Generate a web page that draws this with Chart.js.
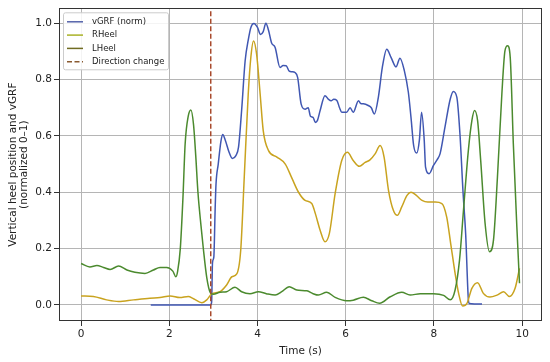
<!DOCTYPE html>
<html><head><meta charset="utf-8">
<script src="https://cdn.jsdelivr.net/npm/chart.js@4/dist/chart.umd.min.js"></script>
<style>html,body{margin:0;padding:0;background:#fff}#wrap{width:550px;height:362px}</style>
</head><body><div id="wrap"><canvas id="c" width="550" height="362"></canvas></div>
<script>
const xTicks = [0, 2, 4, 6, 8, 10];
const yTicks = [0.0, 0.2, 0.4, 0.6, 0.8, 1.0];
const directionChangeTime = 2.94;

const vgrfTime = [1.58, 2.94, 2.96, 2.98, 3.01, 3.04, 3.06, 3.11, 3.17, 3.21, 3.27, 3.35, 3.43, 3.51, 3.57, 3.64, 3.72, 3.79, 3.85, 3.92, 4.0, 4.07, 4.13, 4.19, 4.25, 4.32, 4.40, 4.51, 4.58, 4.65, 4.72, 4.78, 4.85, 4.91, 4.99, 5.08, 5.15, 5.20, 5.26, 5.31, 5.36, 5.42, 5.53, 5.61, 5.67, 5.73, 5.80, 5.86, 5.91, 6.02, 6.10, 6.17, 6.29, 6.34, 6.40, 6.51, 6.58, 6.65, 6.74, 6.83, 6.93, 7.03, 7.14, 7.23, 7.33, 7.42, 7.48, 7.54, 7.61, 7.67, 7.72, 7.78, 7.81, 7.89, 7.99, 8.07, 8.14, 8.25, 8.37, 8.44, 8.52, 8.59, 8.66, 8.72, 8.78, 8.80, 9.09];
const vgrfValue = [0.0, 0.0, 0.01, 0.15, 0.17, 0.34, 0.43, 0.50, 0.58, 0.605, 0.585, 0.545, 0.52, 0.53, 0.56, 0.69, 0.867, 0.94, 0.985, 0.999, 0.985, 0.96, 0.97, 1.0, 0.975, 0.93, 0.914, 0.843, 0.85, 0.849, 0.83, 0.828, 0.825, 0.808, 0.713, 0.695, 0.70, 0.67, 0.666, 0.648, 0.655, 0.69, 0.743, 0.73, 0.725, 0.73, 0.726, 0.70, 0.684, 0.684, 0.70, 0.684, 0.725, 0.715, 0.714, 0.708, 0.70, 0.678, 0.737, 0.843, 0.908, 0.878, 0.845, 0.876, 0.831, 0.755, 0.666, 0.566, 0.539, 0.585, 0.684, 0.585, 0.489, 0.466, 0.495, 0.515, 0.537, 0.631, 0.731, 0.758, 0.737, 0.607, 0.40, 0.25, 0.02, 0.005, 0.003];

const rheelTime = [0, 0.28, 0.58, 0.85, 1.19, 1.56, 1.79, 2.02, 2.24, 2.43, 2.55, 2.74, 2.85, 2.96, 3.15, 3.30, 3.42, 3.53, 3.62, 3.70, 3.79, 3.85, 3.91, 3.98, 4.06, 4.13, 4.25, 4.44, 4.63, 4.78, 4.93, 5.08, 5.23, 5.31, 5.42, 5.53, 5.63, 5.76, 5.91, 6.04, 6.17, 6.31, 6.44, 6.55, 6.67, 6.78, 6.87, 6.97, 7.08, 7.17, 7.27, 7.39, 7.48, 7.60, 7.73, 7.86, 8.03, 8.18, 8.29, 8.38, 8.48, 8.56, 8.65, 8.75, 8.86, 8.99, 9.12, 9.27, 9.43, 9.58, 9.71, 9.84, 9.94];
const rheelValue = [0.032, 0.03, 0.018, 0.012, 0.018, 0.024, 0.026, 0.032, 0.026, 0.03, 0.022, 0.008, 0.018, 0.039, 0.047, 0.071, 0.10, 0.11, 0.195, 0.454, 0.749, 0.88, 0.937, 0.89, 0.749, 0.619, 0.548, 0.525, 0.50, 0.45, 0.40, 0.371, 0.36, 0.325, 0.265, 0.224, 0.254, 0.395, 0.513, 0.542, 0.513, 0.492, 0.506, 0.515, 0.537, 0.566, 0.525, 0.407, 0.336, 0.318, 0.348, 0.389, 0.40, 0.389, 0.371, 0.365, 0.365, 0.36, 0.312, 0.218, 0.112, 0.041, -0.004, 0.006, 0.059, 0.079, 0.041, 0.028, 0.035, 0.047, 0.03, 0.059, 0.13];

const lheelTime = [0, 0.2, 0.36, 0.51, 0.66, 0.85, 1.04, 1.22, 1.45, 1.64, 1.79, 1.94, 2.08, 2.15, 2.19, 2.25, 2.31, 2.36, 2.43, 2.49, 2.55, 2.6, 2.65, 2.72, 2.77, 2.85, 2.93, 3.0, 3.15, 3.30, 3.49, 3.64, 3.83, 4.02, 4.20, 4.40, 4.55, 4.72, 4.89, 5.12, 5.26, 5.38, 5.57, 5.76, 6.02, 6.17, 6.40, 6.59, 6.77, 7.01, 7.27, 7.46, 7.69, 7.99, 8.22, 8.37, 8.48, 8.58, 8.67, 8.78, 8.86, 8.92, 8.99, 9.06, 9.16, 9.26, 9.35, 9.44, 9.54, 9.61, 9.67, 9.73, 9.80, 9.88, 9.94];
const lheelValue = [0.147, 0.135, 0.14, 0.133, 0.126, 0.138, 0.124, 0.116, 0.112, 0.124, 0.133, 0.133, 0.12, 0.10, 0.12, 0.2, 0.38, 0.572, 0.67, 0.692, 0.64, 0.53, 0.40, 0.28, 0.203, 0.097, 0.044, 0.038, 0.045, 0.047, 0.063, 0.047, 0.04, 0.047, 0.04, 0.035, 0.047, 0.065, 0.053, 0.05, 0.04, 0.035, 0.045, 0.027, 0.015, 0.017, 0.027, 0.015, 0.006, 0.029, 0.045, 0.035, 0.04, 0.04, 0.034, 0.018, 0.053, 0.159, 0.336, 0.548, 0.654, 0.69, 0.654, 0.513, 0.289, 0.189, 0.23, 0.454, 0.749, 0.902, 0.92, 0.878, 0.572, 0.277, 0.077];

const X_MIN = -0.5, X_MAX = 10.45, Y_MIN = -0.057, Y_MAX = 1.053;
const pts = (t, v) => t.map((x, i) => ({x: x, y: v[i]}));
const FONT = 'DejaVu Sans';

const legendPlugin = {
  id: 'inLegend',
  afterDatasetsDraw(chart) {
    const ctx = chart.ctx, ca = chart.chartArea;
    const x0 = ca.left + 4, y0 = ca.top + 4, w = 105, h = 57;
    ctx.save();
    ctx.fillStyle = 'rgba(255,255,255,0.85)';
    ctx.strokeStyle = '#cccccc';
    ctx.lineWidth = 1;
    ctx.beginPath();
    ctx.roundRect(x0 + 0.5, y0 + 0.5, w, h, 2);
    ctx.fill(); ctx.stroke();
    ctx.font = '8.5px ' + FONT;
    ctx.textBaseline = 'middle';
    chart.data.datasets.forEach((ds, i) => {
      const y = y0 + 9.5 + i * 13.3;
      ctx.strokeStyle = ds.legendColor || ds.borderColor;
      ctx.lineWidth = 1.5;
      ctx.setLineDash(ds.borderDash || []);
      ctx.beginPath(); ctx.moveTo(x0 + 4, y); ctx.lineTo(x0 + 20, y); ctx.stroke();
      ctx.setLineDash([]);
      ctx.fillStyle = '#222';
      ctx.fillText(ds.label, x0 + 29, y);
    });
    ctx.restore();
  }
};
const framePlugin = {
  id: 'frame',
  afterDraw(chart) {
    const ctx = chart.ctx, ca = chart.chartArea;
    ctx.save();
    ctx.strokeStyle = '#333';
    ctx.lineWidth = 1;
    ctx.strokeRect(Math.round(ca.left) + 0.5, Math.round(ca.top) + 0.5, Math.round(ca.right - ca.left) - 1, Math.round(ca.bottom - ca.top) - 1);
    ctx.restore();
  }
};

new Chart(document.getElementById('c'), {
  type: 'line',
  data: {
    datasets: [
      {label: 'vGRF (norm)', data: pts(vgrfTime, vgrfValue), borderColor: '#4057b2', legendColor: '#5563aa', order: 3},
      {label: 'RHeel', data: pts(rheelTime, rheelValue), borderColor: '#c9a31f', legendColor: '#a9b226', order: 2},
      {label: 'LHeel', data: pts(lheelTime, lheelValue), borderColor: '#4b8a2e', legendColor: '#706c22', order: 1},
      {label: 'Direction change', data: [{x: directionChangeTime, y: -0.2}, {x: directionChangeTime, y: 1.2}], borderColor: '#a84a2c', legendColor: '#8a5a30', borderDash: [5, 2.5], order: 0, cubicInterpolationMode: 'default', tension: 0}
    ]
  },
  options: {
    responsive: false,
    animation: false,
    layout: {padding: {top: 7, right: 8, left: 0, bottom: 0}},
    elements: {point: {radius: 0}, line: {borderWidth: 1.5, cubicInterpolationMode: 'monotone', fill: false}},
    plugins: {legend: {display: false}, tooltip: {enabled: false}},
    scales: {
      x: {
        type: 'linear', min: X_MIN, max: X_MAX,
        afterBuildTicks: s => { s.ticks = xTicks.map(v => ({value: v})); },
        afterFit: s => { s.height = 41; },
        ticks: {font: {family: FONT, size: 10.5}, color: '#222', padding: 2, maxRotation: 0, callback: v => String(v)},
        grid: {color: '#b5b5b5', lineWidth: 1, tickColor: '#333', tickLength: 5},
        border: {display: false},
        title: {display: true, text: 'Time (s)', font: {family: FONT, size: 10.5}, color: '#222', padding: {top: 1, bottom: 4}}
      },
      y: {
        type: 'linear', min: Y_MIN, max: Y_MAX,
        afterBuildTicks: s => { s.ticks = yTicks.map(v => ({value: v})); },
        afterFit: s => { s.width = 59; },
        ticks: {font: {family: FONT, size: 10.5}, color: '#222', padding: 2, callback: v => v.toFixed(1)},
        grid: {color: '#b5b5b5', lineWidth: 1, tickColor: '#333', tickLength: 5},
        border: {display: false},
        title: {display: true, text: ['Vertical heel position and vGRF', '(normalized 0\u20131)'], font: {family: FONT, size: 10.5, lineHeight: 1.1}, color: '#222', padding: {top: 7, bottom: 0}}
      }
    }
  },
  plugins: [legendPlugin, framePlugin]
});
</script></body></html>
